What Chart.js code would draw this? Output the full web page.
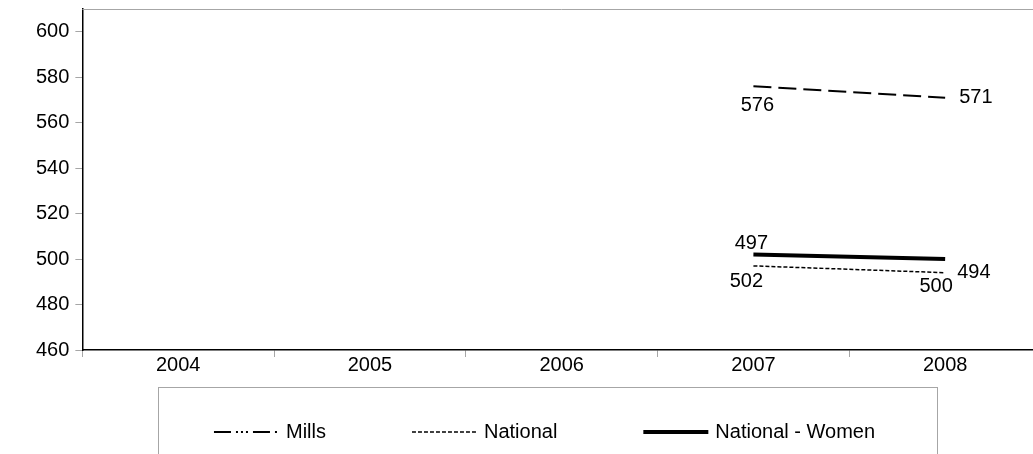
<!DOCTYPE html>
<html>
<head>
<meta charset="utf-8">
<script src="https://cdn.jsdelivr.net/npm/chart.js@4.4.1/dist/chart.umd.min.js"></script>
<style>
  html, body { margin: 0; padding: 0; background: #fff; overflow: hidden; }
  #wrap { position: relative; width: 1041px; height: 463px; margin-top: -9px; }
</style>
</head>
<body>
<div id="wrap"><canvas id="c"></canvas></div>
<script>
// ---- data ----
const categories = ['2004', '2005', '2006', '2007', '2008'];
const seriesNames = ['Mills', 'National', 'National - Women'];
const millsValues = [null, null, null, 576, 571];
const nationalValues = [null, null, null, 497, 494];
const womenValues = [null, null, null, 502, 500];
const yTicks = [460, 480, 500, 520, 540, 560, 580, 600];
const yMin = 460, yMax = 610;

const FONT = '"Liberation Sans", Arial, sans-serif';
const FS = 20;
const SHIFT = 9; // canvas is shifted up by this many px

const datasets = [
  { label: seriesNames[0], data: millsValues, borderColor: '#000', borderWidth: 2,
    borderDash: [18, 7], legendDash: [17, 5, 2, 3, 2, 3, 2, 5],
    labelPos: ['below', 'right'], labelDy: 19, labelDx: [4, 0] },
  { label: seriesNames[1], data: nationalValues, borderColor: '#000', borderWidth: 1.5,
    borderDash: [4, 2], legendDash: [4, 2],
    labelPos: ['above', 'right'], labelDy: 22, labelDx: [-2, -2] },
  { label: seriesNames[2], data: womenValues, borderColor: '#000', borderWidth: 4,
    borderDash: [], legendDash: [],
    labelPos: ['below', 'below'], labelDy: 27, labelDx: [-7, -9] }
].map(d => Object.assign({ fill: false, pointRadius: 0, tension: 0, spanGaps: false }, d));

const frame = {
  id: 'frame',
  beforeDatasetsDraw(chart) {
    const { ctx, chartArea: a } = chart;
    ctx.save();
    ctx.strokeStyle = '#A6A6A6';
    ctx.lineWidth = 1;
    ctx.beginPath();
    ctx.moveTo(a.left, a.top + 0.5);
    ctx.lineTo(a.right, a.top + 0.5);
    ctx.lineTo(a.right, a.bottom);
    ctx.stroke();
    ctx.restore();
  }
};

const valueLabels = {
  id: 'valueLabels',
  afterDatasetsDraw(chart) {
    const { ctx } = chart;
    ctx.save();
    ctx.font = FS + 'px ' + FONT;
    ctx.fillStyle = '#000';
    chart.data.datasets.forEach((ds, di) => {
      const meta = chart.getDatasetMeta(di);
      let k = 0;
      meta.data.forEach((pt, i) => {
        const v = ds.data[i];
        if (v == null) return;
        const pos = ds.labelPos[k] || 'above';
        const dx = ds.labelDx[k] || 0;
        k++;
        const txt = String(v);
        let x = pt.x + dx, y = pt.y;
        ctx.textBaseline = 'middle';
        if (pos === 'above') { ctx.textAlign = 'center'; y -= ds.labelDy; }
        else if (pos === 'below') { ctx.textAlign = 'center'; y += ds.labelDy; }
        else { ctx.textAlign = 'left'; x += 14; }
        ctx.fillText(txt, x, y);
      });
    });
    ctx.restore();
  }
};

const boxLegend = {
  id: 'boxLegend',
  afterDraw(chart) {
    const { ctx } = chart;
    const boxL = 158, boxR = 937, boxT = 387 + SHIFT, boxB = 480;
    ctx.save();
    ctx.strokeStyle = '#A6A6A6';
    ctx.lineWidth = 1;
    ctx.strokeRect(boxL + 0.5, boxT + 0.5, boxR - boxL, boxB - boxT);
    ctx.font = FS + 'px ' + FONT;
    const sample = 65, gapText = 7, spacing = 86;
    const items = chart.data.datasets.map(ds => ({ ds, w: sample + gapText + ctx.measureText(ds.label).width }));
    const total = items.reduce((s, it) => s + it.w, 0) + spacing * (items.length - 1);
    let x = (boxL + boxR) / 2 - total / 2 - 3;
    const y = 432 + SHIFT;
    items.forEach(it => {
      ctx.strokeStyle = '#000';
      ctx.lineWidth = it.ds.borderWidth;
      ctx.setLineDash(it.ds.legendDash);
      ctx.beginPath();
      ctx.moveTo(x, y);
      ctx.lineTo(x + sample, y);
      ctx.stroke();
      ctx.setLineDash([]);
      ctx.fillStyle = '#000';
      ctx.textAlign = 'left';
      ctx.textBaseline = 'middle';
      ctx.fillText(it.ds.label, x + sample + gapText, y);
      x += it.w + spacing;
    });
    ctx.restore();
  }
};

new Chart(document.getElementById('c'), {
  type: 'line',
  data: { labels: categories, datasets },
  options: {
    responsive: true,
    maintainAspectRatio: false,
    animation: false,
    layout: { padding: { top: 0, right: 0, left: 30, bottom: 81 } },
    plugins: { legend: { display: false }, tooltip: { enabled: false } },
    scales: {
      x: {
        offset: true,
        grid: { offset: true, drawOnChartArea: false, drawTicks: true, tickLength: 7, color: '#A6A6A6' },
        border: { display: true, color: '#000', width: 1.5 },
        ticks: { color: '#000', font: { family: FONT, size: FS }, padding: -4, maxRotation: 0 }
      },
      y: {
        min: yMin, max: yMax,
        afterBuildTicks(axis) { axis.ticks = yTicks.map(v => ({ value: v })); },
        grid: { drawOnChartArea: false, drawTicks: true, tickLength: 7, color: '#A6A6A6' },
        border: { display: true, color: '#000', width: 1.5 },
        ticks: { color: '#000', font: { family: FONT, size: FS }, padding: 6 }
      }
    }
  },
  plugins: [frame, valueLabels, boxLegend]
});
</script>
</body>
</html>
